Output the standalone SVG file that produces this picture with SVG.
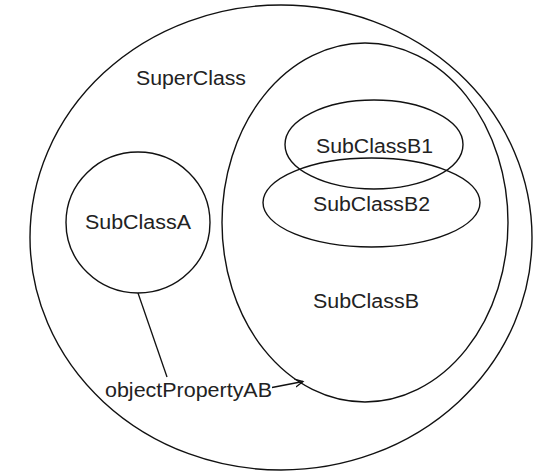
<svg xmlns="http://www.w3.org/2000/svg" width="539" height="474" viewBox="0 0 539 474">
  <style>
    .shape { fill: none; stroke: #111; stroke-width: 1.4; }
    .label { font-family: "Liberation Sans", Arial, sans-serif; font-size: 19.5px; fill: #222; }
    .edge { fill: none; stroke: #111; stroke-width: 1.3; }
  </style>
  <defs>
    <marker id="openArrow" markerWidth="10" markerHeight="10" refX="8" refY="4" orient="auto" markerUnits="userSpaceOnUse">
      <path d="M0,0 L8,4 L0,8" fill="none" stroke="#111" stroke-width="1.3"/>
    </marker>
  </defs>

  <g id="SuperClass">
    <ellipse class="shape" cx="281" cy="237.5" rx="251" ry="232.5"/>
    <text class="label" x="136" y="85" textLength="110" lengthAdjust="spacingAndGlyphs">SuperClass</text>
  </g>

  <g id="SubClassB">
    <ellipse class="shape" cx="365" cy="222.5" rx="143" ry="179.5"/>
    <text class="label" x="313" y="308" textLength="106" lengthAdjust="spacingAndGlyphs">SubClassB</text>
  </g>

  <g id="SubClassB1">
    <ellipse class="shape" cx="374" cy="144.5" rx="89" ry="44.5"/>
    <text class="label" x="316" y="153" textLength="117" lengthAdjust="spacingAndGlyphs">SubClassB1</text>
  </g>

  <g id="SubClassB2">
    <ellipse class="shape" cx="371.5" cy="202.5" rx="108.5" ry="44.5"/>
    <text class="label" x="313" y="211" textLength="117" lengthAdjust="spacingAndGlyphs">SubClassB2</text>
  </g>

  <g id="SubClassA">
    <ellipse class="shape" cx="138" cy="222.5" rx="72" ry="70.5"/>
    <text class="label" x="85" y="229" textLength="106" lengthAdjust="spacingAndGlyphs">SubClassA</text>
  </g>

  <g id="connectors">
    <line class="edge" x1="138" y1="293" x2="167" y2="377"/>
    <text class="label" x="105" y="397" textLength="167" lengthAdjust="spacingAndGlyphs">objectPropertyAB</text>
    <line class="edge" x1="272" y1="387.5" x2="303" y2="381.5" marker-end="url(#openArrow)"/>
  </g>
</svg>
